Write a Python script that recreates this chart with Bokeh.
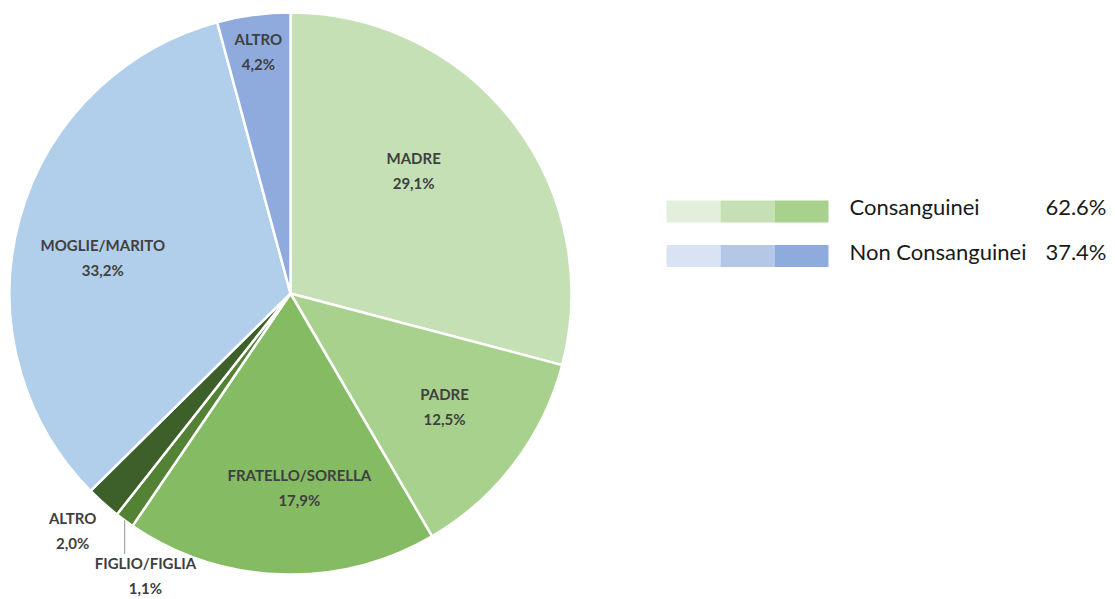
import numpy as np
from bokeh.plotting import figure
from bokeh.models import Range1d, ColumnDataSource
from bokeh.core.properties import value
from bokeh.embed import file_html
from bokeh.resources import INLINE

# ---------------- data ----------------
categories = ["MADRE", "PADRE", "FRATELLO/SORELLA", "FIGLIO/FIGLIA", "ALTRO", "MOGLIE/MARITO", "ALTRO"]
shares = [29.1, 12.5, 17.9, 1.1, 2.0, 33.2, 4.2]
groups = ["Consanguinei"] * 5 + ["Non Consanguinei"] * 2
slice_colors = ["#c5e0b4", "#a9d18e", "#85bb63", "#548235", "#3d5f2a", "#b1cfea", "#8faadc"]
group_names = ["Consanguinei", "Non Consanguinei"]
legend_colors = [["#e2efda", "#c5e0b4", "#a9d18e"], ["#dae3f3", "#b4c7e7", "#8faadc"]]

# ---------------- layout (screen-like coordinates) ----------------
W, H = 1115, 599
CX, CY, R = 290, 599 - 293, 281
# label placement: (radius fraction, angle shift in degrees)
label_layout = [(0.62, -7.4), (0.68, -1.0), (0.69, -4.6), (1.13, -9.0), (1.146, 0.8), (0.68, -4.4), (0.87, 0.0)]
FONT = "Lato"
TXT = "#404040"

p = figure(width=W, height=H, x_range=Range1d(0, W), y_range=Range1d(599 - H, 599),
           output_backend="svg", toolbar_location=None, min_border=0)
p.axis.visible = False
p.grid.visible = False
p.outline_line_color = None
p.background_fill_color = "white"

vals = np.array(shares)
frac = vals / vals.sum()
cum_end = np.cumsum(frac)
cum_start = cum_end - frac
start_ang = np.pi / 2 - cum_end * 2 * np.pi
end_ang = np.pi / 2 - cum_start * 2 * np.pi
mid = (cum_start + cum_end) / 2  # fraction of turn clockwise from top

src = ColumnDataSource(dict(start=start_ang, end=end_ang, color=slice_colors))
p.wedge(x=CX, y=CY, radius=R, start_angle="start", end_angle="end", direction="anticlock",
        fill_color="color", line_color="white", line_width=2.5, source=src)

# labels
lx, ly, names, pcts = [], [], [], []
for i, (rf, sh) in enumerate(label_layout):
    a = np.deg2rad(mid[i] * 360 + sh)
    lx.append(CX + rf * R * np.sin(a))
    ly.append(CY + rf * R * np.cos(a))
    names.append(categories[i])
    pcts.append(f"{shares[i]:.1f}".replace(".", ",") + "%")
lsrc = ColumnDataSource(dict(x=lx, y=ly, n=names, v=pcts))
p.text(x="x", y="y", text="n", source=lsrc, text_align="center", text_baseline="middle",
       y_offset=-12.5, text_font=value(FONT), text_font_style="bold", text_font_size="15px",
       text_color=TXT)
p.text(x="x", y="y", text="v", source=lsrc, text_align="center", text_baseline="middle",
       y_offset=12.5, text_font=value(FONT), text_font_style="bold", text_font_size="15px",
       text_color=TXT)

# leader line for FIGLIO/FIGLIA
k = 3
a = mid[k] * 2 * np.pi
x0 = CX + R * np.sin(a)
y0 = CY + R * np.cos(a)
p.segment(x0=[x0], y0=[y0], x1=[x0], y1=[ly[k] + 22], line_color="#a6a6a6", line_width=1.2)

# legend
totals = [sum(s for s, g in zip(shares, groups) if g == name) for name in group_names]
sw_x0, sw_w = 666, 54
rows_y = [599 - 211, 599 - 255.5]
for r, name in enumerate(group_names):
    y = rows_y[r]
    for j, c in enumerate(legend_colors[r]):
        p.quad(left=sw_x0 + j * sw_w, right=sw_x0 + (j + 1) * sw_w, bottom=y - 11, top=y + 11,
               fill_color=c, line_color=None)
    p.text(x=[849], y=[y + 5], text=[name], text_baseline="middle", text_align="left",
           text_font=value(FONT), text_font_size="22px", text_color="#1a1a1a")
    p.text(x=[1106], y=[y + 5], text=[f"{totals[r]:.1f}%"], text_baseline="middle", text_align="right",
           text_font=value(FONT), text_font_size="22px", text_color="#1a1a1a")

open("out.html", "w").write(file_html(p, INLINE))
